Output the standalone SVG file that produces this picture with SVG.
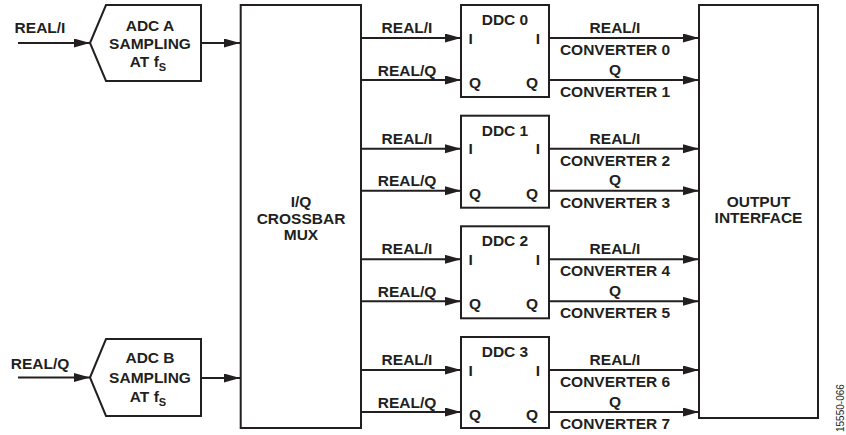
<svg xmlns="http://www.w3.org/2000/svg" width="846" height="435" viewBox="0 0 846 435">
<style>
text{font-family:"Liberation Sans",Arial,sans-serif;font-weight:bold;font-size:15.5px;fill:#231f20}
.m{text-anchor:middle}
.box{fill:#fff;stroke:#231f20;stroke-width:2}
.ln{stroke:#231f20;stroke-width:2;fill:none;marker-end:url(#ah)}
.sub{font-size:11px}
.fig{font-weight:normal;font-size:10px}
</style>
<defs>
<marker id="ah" markerUnits="userSpaceOnUse" markerWidth="17" markerHeight="10" refX="16" refY="4.5" orient="auto">
<path d="M0,0 L16,4.5 L0,9 z" fill="#231f20"/>
</marker>
</defs>
<rect width="846" height="435" fill="#fff"/>
<g id="connectors">
<line class="ln" x1="18" y1="43" x2="90" y2="43"/>
<line class="ln" x1="201" y1="43" x2="240" y2="43"/>
<line class="ln" x1="18" y1="377.5" x2="90" y2="377.5"/>
<line class="ln" x1="201" y1="378" x2="240" y2="378"/>
<line class="ln" x1="361" y1="38" x2="461" y2="38"/>
<line class="ln" x1="361" y1="80" x2="461" y2="80"/>
<line class="ln" x1="549" y1="38" x2="699" y2="38"/>
<line class="ln" x1="549" y1="80" x2="699" y2="80"/>
<line class="ln" x1="361" y1="148.7" x2="461" y2="148.7"/>
<line class="ln" x1="361" y1="190.7" x2="461" y2="190.7"/>
<line class="ln" x1="549" y1="148.7" x2="699" y2="148.7"/>
<line class="ln" x1="549" y1="190.7" x2="699" y2="190.7"/>
<line class="ln" x1="361" y1="259.3" x2="461" y2="259.3"/>
<line class="ln" x1="361" y1="301.3" x2="461" y2="301.3"/>
<line class="ln" x1="549" y1="259.3" x2="699" y2="259.3"/>
<line class="ln" x1="549" y1="301.3" x2="699" y2="301.3"/>
<line class="ln" x1="361" y1="370" x2="461" y2="370"/>
<line class="ln" x1="361" y1="412" x2="461" y2="412"/>
<line class="ln" x1="549" y1="370" x2="699" y2="370"/>
<line class="ln" x1="549" y1="412" x2="699" y2="412"/>
</g>
<g id="connector-labels">
<text class="m" x="40" y="33">REAL/I</text>
<text class="m" x="40" y="368.5">REAL/Q</text>
<text class="m" x="407" y="33">REAL/I</text>
<text class="m" x="407" y="75.5">REAL/Q</text>
<text class="m" x="615" y="33">REAL/I</text>
<text class="m" x="615" y="55">CONVERTER 0</text>
<text class="m" x="615" y="74.5">Q</text>
<text class="m" x="615" y="97">CONVERTER 1</text>
<text class="m" x="407" y="143.7">REAL/I</text>
<text class="m" x="407" y="186.2">REAL/Q</text>
<text class="m" x="615" y="143.7">REAL/I</text>
<text class="m" x="615" y="165.7">CONVERTER 2</text>
<text class="m" x="615" y="185.2">Q</text>
<text class="m" x="615" y="207.7">CONVERTER 3</text>
<text class="m" x="407" y="254.3">REAL/I</text>
<text class="m" x="407" y="296.8">REAL/Q</text>
<text class="m" x="615" y="254.3">REAL/I</text>
<text class="m" x="615" y="276.3">CONVERTER 4</text>
<text class="m" x="615" y="295.8">Q</text>
<text class="m" x="615" y="318.3">CONVERTER 5</text>
<text class="m" x="407" y="365">REAL/I</text>
<text class="m" x="407" y="407.5">REAL/Q</text>
<text class="m" x="615" y="365">REAL/I</text>
<text class="m" x="615" y="387">CONVERTER 6</text>
<text class="m" x="615" y="406.5">Q</text>
<text class="m" x="615" y="429">CONVERTER 7</text>
</g>
<g id="adc-a">
<polygon class="box" points="90,43 106,5 201,5 201,81 106,81"/>
<text class="m" x="150" y="30.5">ADC A</text>
<text class="m" x="150" y="49">SAMPLING</text>
<text class="m" x="148" y="67">AT f<tspan class="sub" dy="4">S</tspan></text>
</g>
<g id="adc-b">
<polygon class="box" points="90,377.5 106,339 201,339 201,416 106,416"/>
<text class="m" x="150" y="363">ADC B</text>
<text class="m" x="150" y="383">SAMPLING</text>
<text class="m" x="148" y="401.5">AT f<tspan class="sub" dy="4">S</tspan></text>
</g>
<g id="crossbar">
<rect class="box" x="240.7" y="5" width="120.3" height="423"/>
<text class="m" x="301" y="207">I/Q</text>
<text class="m" x="301" y="223.5">CROSSBAR</text>
<text class="m" x="301" y="239.5">MUX</text>
</g>
<g id="ddc0">
<rect class="box" x="461" y="5" width="88" height="92"/>
<text class="m" x="505" y="25">DDC 0</text>
<text x="468.5" y="43.5">I</text>
<text x="535.7" y="43.5">I</text>
<text x="469" y="88">Q</text>
<text x="526" y="88">Q</text>
</g>
<g id="ddc1">
<rect class="box" x="461" y="115.7" width="88" height="92"/>
<text class="m" x="505" y="135.7">DDC 1</text>
<text x="468.5" y="154.2">I</text>
<text x="535.7" y="154.2">I</text>
<text x="469" y="198.7">Q</text>
<text x="526" y="198.7">Q</text>
</g>
<g id="ddc2">
<rect class="box" x="461" y="226.3" width="88" height="92"/>
<text class="m" x="505" y="246.3">DDC 2</text>
<text x="468.5" y="264.8">I</text>
<text x="535.7" y="264.8">I</text>
<text x="469" y="309.3">Q</text>
<text x="526" y="309.3">Q</text>
</g>
<g id="ddc3">
<rect class="box" x="461" y="337" width="88" height="91"/>
<text class="m" x="505" y="357">DDC 3</text>
<text x="468.5" y="375.5">I</text>
<text x="535.7" y="375.5">I</text>
<text x="469" y="420">Q</text>
<text x="526" y="420">Q</text>
</g>
<g id="output-interface">
<rect class="box" x="699" y="5" width="119" height="413"/>
<text class="m" x="758.5" y="206.5">OUTPUT</text>
<text class="m" x="758.5" y="223">INTERFACE</text>
</g>
<text class="fig" transform="translate(844,432) rotate(-90)">15550-066</text>
</svg>
